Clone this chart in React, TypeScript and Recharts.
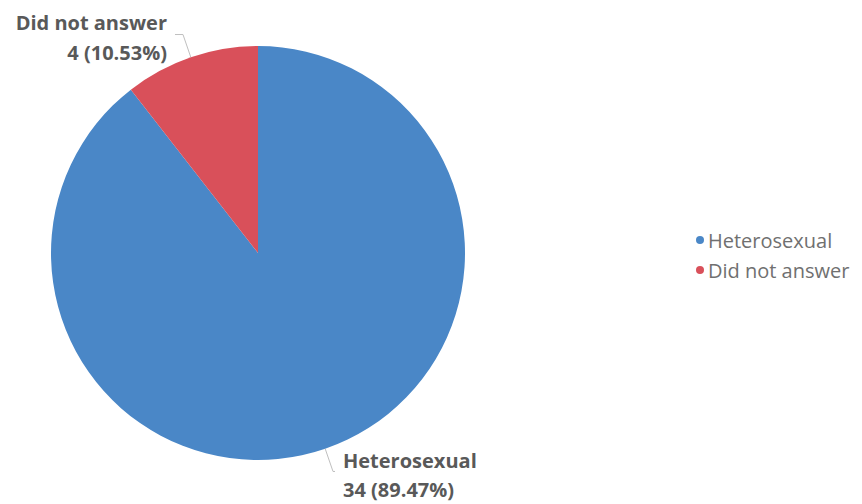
import React from "react";
import { PieChart, Pie, Cell, Legend } from "recharts";

const categories = ["Heterosexual", "Did not answer"];
const counts = [34, 4];
const percents = ["89.47%", "10.53%"];
const colors = ["#4A87C7", "#D9505A"];

const data = categories.map((name, i) => ({ name, value: counts[i], pct: percents[i] }));

const RADIAN = Math.PI / 180;

const renderLabel = (props: any) => {
  const { cx, cy, midAngle, outerRadius, index } = props;
  const cos = Math.cos(-midAngle * RADIAN);
  const sin = Math.sin(-midAngle * RADIAN);
  const sx = cx + outerRadius * cos;
  const sy = cy + outerRadius * sin;
  const isTop = sin < 0;
  const ex = cx + (outerRadius + 24) * cos;
  const ey = cy + (outerRadius + 24) * sin;
  const left = cos < 0;
  const hx = ex + (left ? -8 : 2);
  const item = data[index];
  const tx = left ? ex - 16 : ex + 10;
  const y1 = isTop ? ey - 12.5 : ey - 10.5;
  const y2 = isTop ? y1 + 30 : y1 + 29;
  const anchor = left ? "end" : "start";
  return (
    <g>
      <polyline
        points={`${sx},${sy} ${ex},${ey} ${hx},${ey}`}
        fill="none"
        stroke="#BFBFBF"
        strokeWidth={1}
      />
      <text
        x={tx}
        y={y1}
        textAnchor={anchor}
        dominantBaseline="central"
        fill="#595959"
        fontFamily="'Open Sans', sans-serif"
        fontWeight="bold"
        fontSize={20}
      >
        {item.name}
      </text>
      <text
        x={tx}
        y={y2}
        textAnchor={anchor}
        dominantBaseline="central"
        fill="#595959"
        fontFamily="'Open Sans', sans-serif"
        fontWeight="bold"
        fontSize={20}
      >
        {`${item.value} (${item.pct})`}
      </text>
    </g>
  );
};

const renderLegend = () => (
  <div style={{ fontFamily: "'Open Sans', sans-serif", fontSize: 20, color: "#707070", whiteSpace: "nowrap" }}>
    {data.map((d, i) => (
      <div key={d.name} style={{ display: "flex", alignItems: "center", height: 30 }}>
        <span
          style={{
            width: 8,
            height: 8,
            borderRadius: "50%",
            background: colors[i],
            display: "inline-block",
            marginRight: 4,
          }}
        />
        <span>{d.name}</span>
      </div>
    ))}
  </div>
);

export default function App() {
  return (
    <div style={{ position: "absolute", left: 0, top: 0, background: "#fff" }}>
      <PieChart width={862} height={504} margin={{ top: 0, right: 0, bottom: 0, left: 0 }}>
        <Pie
          data={data}
          dataKey="value"
          nameKey="name"
          cx={258}
          cy={253}
          outerRadius={207}
          startAngle={90}
          endAngle={-270}
          stroke="none"
          label={renderLabel}
          labelLine={false}
          isAnimationActive={false}
        >
          {data.map((d, i) => (
            <Cell key={d.name} fill={colors[i]} />
          ))}
        </Pie>
        <Legend
          layout="vertical"
          align="right"
          verticalAlign="middle"
          content={renderLegend}
          wrapperStyle={{ left: 696, top: 225, width: 166 }}
        />
      </PieChart>
    </div>
  );
}
